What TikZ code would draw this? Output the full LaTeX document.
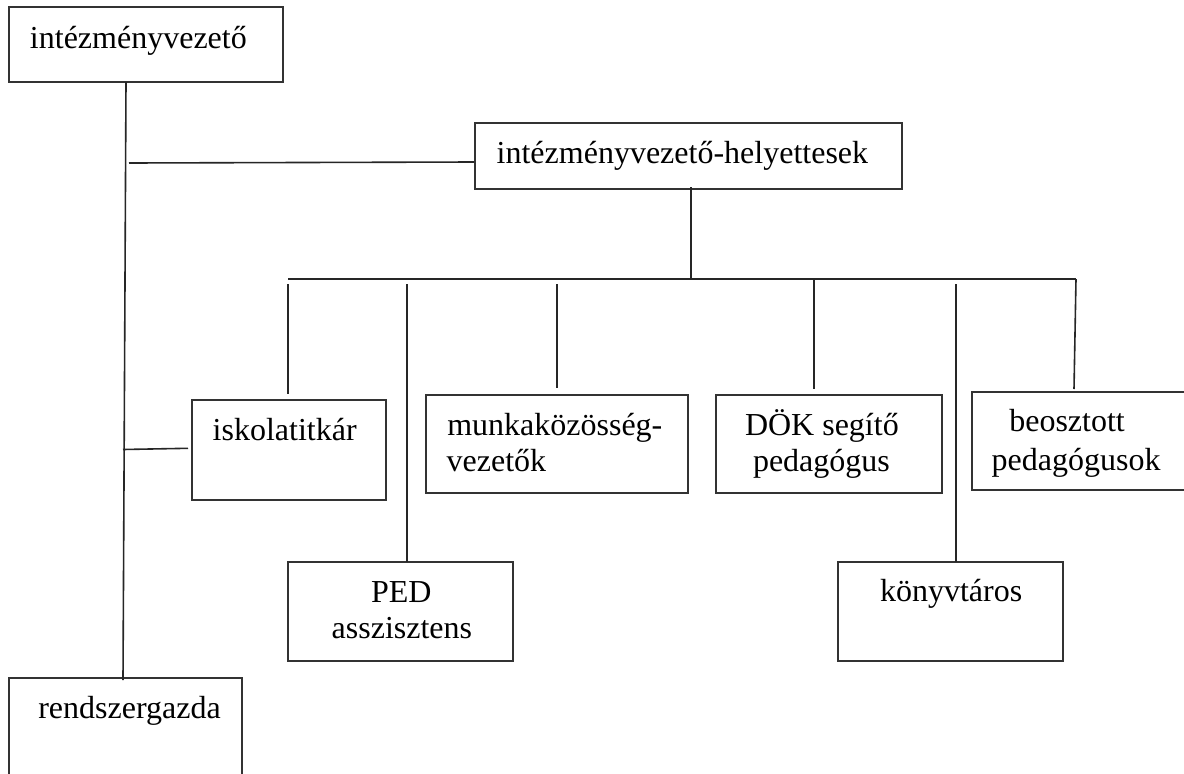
\documentclass[tikz,border=0pt]{standalone}
\usepackage{fontspec}
\setmainfont{Liberation Serif}
\tikzset{
  box/.style={draw=black!80, line width=1.6pt, rectangle, inner sep=0pt, outer sep=0pt},
  lbl/.style={anchor=base west, inner sep=0pt, outer sep=0pt, font=\fontsize{32}{38}\selectfont},
  conn/.style={draw=black!85, line width=1.6pt}
}
\begin{document}
\begin{tikzpicture}[x=1pt,y=-1pt]
\useasboundingbox (0,0) rectangle (1184,774);
\clip (0,0) rectangle (1184,774);
\fill[white] (0,0) rectangle (1184,774);
% boxes
\node[box, minimum width=274pt, minimum height=75pt] (top) at (146,44.5) {};
\node[box, minimum width=427pt, minimum height=66pt] (hely) at (688.5,156) {};
\node[box, minimum width=194pt, minimum height=100pt] (iskola) at (289,450) {};
\node[box, minimum width=262pt, minimum height=98pt] (munka) at (557,444) {};
\node[box, minimum width=226pt, minimum height=98pt] (dok) at (829,444) {};
\node[box, minimum width=228pt, minimum height=98pt] (beo) at (1086,441) {};
\node[box, minimum width=225pt, minimum height=99pt] (ped) at (400.5,611.5) {};
\node[box, minimum width=225pt, minimum height=99pt] (konyv) at (950.5,611.5) {};
\node[box, minimum width=233pt, minimum height=122pt] (rendsz) at (125.5,739) {};
% labels
\node[lbl] (top-t) at (30,48.3) {intézményvezető};
\node[lbl] (hely-t) at (496.7,163.3) {intézményvezető-helyettesek};
\node[lbl] (iskola-t) at (212.7,440) {iskolatitkár};
\node[lbl] (munka-t1) at (447.3,435) {munkaközösség-};
\node[lbl] (munka-t2) at (446.7,471.7) {vezetők};
\node[lbl] (dok-t1) at (745,435) {DÖK segítő};
\node[lbl] (dok-t2) at (753,471.5) {pedagógus};
\node[lbl] (beo-t1) at (1009.3,431.7) {beosztott};
\node[lbl] (beo-t2) at (991.7,470) {pedagógusok};
\node[lbl] (ped-t1) at (371,602.7) {PED};
\node[lbl] (ped-t2) at (331.7,638.3) {asszisztens};
\node[lbl] (konyv-t) at (880,601.7) {könyvtáros};
\node[lbl] (rendsz-t) at (38.3,718.3) {rendszergazda};
% junction coordinates
\coordinate (mTop) at (126,82);
\coordinate (mBot) at (123,680);
\coordinate (hA) at (129,163);
\coordinate (hB) at (474,162);
\coordinate (iA) at (123,449.5);
\coordinate (iB) at (188,448.3);
\coordinate (dA) at (691,187);
\coordinate (dB) at (691,279);
\coordinate (busL) at (288,279);
\coordinate (busR) at (1076,279);
\coordinate (b1a) at (288,284);  \coordinate (b1b) at (288,394);
\coordinate (b2a) at (407,284);  \coordinate (b2b) at (407,562);
\coordinate (b3a) at (557,284);  \coordinate (b3b) at (557,388);
\coordinate (b4a) at (814,279);  \coordinate (b4b) at (814,389);
\coordinate (b5a) at (956,284);  \coordinate (b5b) at (956,562);
\coordinate (b6a) at (1076,279); \coordinate (b6b) at (1074,389);
% connectors
\draw[conn] (mTop) -- (mBot);
\draw[conn] (hA) -- (hB);
\draw[conn] (iA) -- (iB);
\draw[conn] (dA) -- (dB);
\draw[conn] (busL) -- (busR);
\draw[conn] (b1a) -- (b1b);
\draw[conn] (b2a) -- (b2b);
\draw[conn] (b3a) -- (b3b);
\draw[conn] (b4a) -- (b4b);
\draw[conn] (b5a) -- (b5b);
\draw[conn] (b6a) -- (b6b);
\end{tikzpicture}
\end{document}
